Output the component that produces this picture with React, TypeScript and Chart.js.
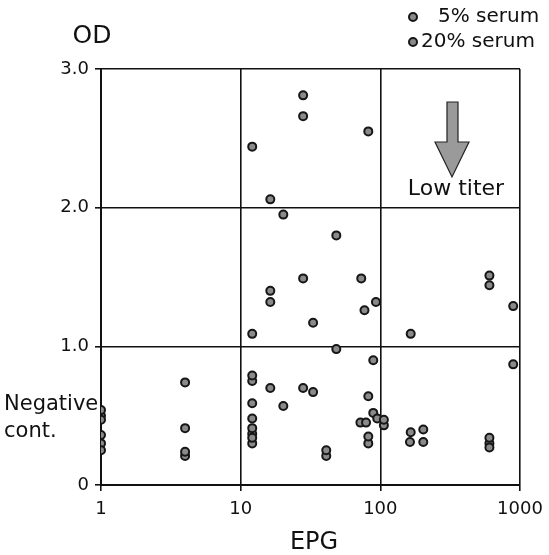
import React, { useEffect, useRef } from "react";
import { Chart, registerables } from "chart.js";

Chart.register(...registerables);

// EPG (x, log scale) and OD (y)
const serum5X = [1, 1, 1, 4, 4, 12.1, 12.1, 12.1, 12.1, 12.1, 16.3, 16.3, 20.2, 28, 28, 33, 41, 48.4, 73, 82, 82, 89, 106, 165, 165, 203, 604, 604, 894];
const serum5Y = [0.54, 0.36, 0.25, 0.74, 0.24, 2.44, 0.79, 0.59, 0.41, 0.34, 2.06, 1.32, 1.95, 2.81, 1.49, 1.17, 0.25, 1.80, 1.49, 2.55, 0.35, 0.90, 0.47, 1.09, 0.38, 0.40, 1.51, 0.34, 1.29];

const serum20X = [1, 1, 1, 4, 4, 12.1, 12.1, 12.1, 12.1, 12.1, 16.3, 16.3, 20.2, 28, 28, 33, 41, 48.4, 72, 77, 79, 82, 82, 89, 93, 95, 106, 163, 203, 604, 604, 604, 894];
const serum20Y = [0.50, 0.47, 0.30, 0.41, 0.21, 1.09, 0.75, 0.48, 0.37, 0.30, 1.40, 0.70, 0.57, 2.66, 0.70, 0.67, 0.21, 0.98, 0.45, 1.26, 0.45, 0.64, 0.30, 0.52, 1.32, 0.48, 0.43, 0.31, 0.31, 1.44, 0.30, 0.27, 0.87];

const xTicks = [1, 10, 100, 1000];
const yTicks = [0, 1, 2, 3];
const yTickLabels = ["0", "1.0", "2.0", "3.0"];
const seriesLabels = ["5% serum", "20% serum"];

const FONT = "'DejaVu Sans', 'Liberation Sans', Arial, sans-serif";
const POINT_FILL = "#8a8a8a";
const POINT_BORDER = "#161616";

const annotations = {
  id: "annotations",
  afterDraw(chart: any) {
    const ctx = chart.ctx as CanvasRenderingContext2D;
    ctx.save();
    ctx.fillStyle = "#111";
    ctx.textBaseline = "middle";

    // OD
    ctx.font = `25px ${FONT}`;
    ctx.textAlign = "center";
    ctx.fillText("OD", 92, 36);

    // EPG
    ctx.font = `24px ${FONT}`;
    ctx.fillText("EPG", 314, 543);

    // Negative cont.
    ctx.font = `21px ${FONT}`;
    ctx.textAlign = "left";
    ctx.textBaseline = "alphabetic";
    ctx.fillText("Negative", 4, 410);
    ctx.fillText("cont.", 4, 437);

    // legend
    ctx.textBaseline = "middle";
    ctx.font = `20px ${FONT}`;
    const rows = [
      { dx: 413, tx: 438, y: 17 },
      { dx: 413, tx: 421, y: 42 },
    ];
    rows.forEach((r, i) => {
      ctx.beginPath();
      ctx.arc(r.dx, r.y, 4, 0, Math.PI * 2);
      ctx.fillStyle = POINT_FILL;
      ctx.fill();
      ctx.lineWidth = 2;
      ctx.strokeStyle = POINT_BORDER;
      ctx.stroke();
      ctx.fillStyle = "#111";
      ctx.fillText(seriesLabels[i], r.tx, r.y);
    });

    // arrow
    ctx.beginPath();
    ctx.moveTo(447, 102);
    ctx.lineTo(458, 102);
    ctx.lineTo(458, 142);
    ctx.lineTo(469, 142);
    ctx.lineTo(452, 177);
    ctx.lineTo(435, 142);
    ctx.lineTo(447, 142);
    ctx.closePath();
    ctx.fillStyle = "#9a9a9a";
    ctx.fill();
    ctx.lineWidth = 1.2;
    ctx.strokeStyle = "#222";
    ctx.stroke();

    // Low titer
    ctx.fillStyle = "#111";
    ctx.font = `22px ${FONT}`;
    ctx.textAlign = "center";
    ctx.textBaseline = "alphabetic";
    ctx.fillText("Low titer", 456, 195);

    ctx.restore();
  },
};

export default function App() {
  const ref = useRef<HTMLCanvasElement | null>(null);

  useEffect(() => {
    if (!ref.current) return;
    const pointStyle = {
      pointRadius: 4,
      pointHoverRadius: 4,
      pointBackgroundColor: POINT_FILL,
      pointBorderColor: POINT_BORDER,
      pointBorderWidth: 2,
      backgroundColor: POINT_FILL,
      borderColor: POINT_BORDER,
    };
    const chart = new Chart(ref.current, {
      type: "scatter",
      data: {
        datasets: [
          {
            label: seriesLabels[0],
            data: serum5X.map((x, i) => ({ x, y: serum5Y[i] })),
            ...pointStyle,
          },
          {
            label: seriesLabels[1],
            data: serum20X.map((x, i) => ({ x, y: serum20Y[i] })),
            ...pointStyle,
          },
        ],
      },
      options: {
        animation: false,
        responsive: false,
        maintainAspectRatio: false,
        layout: { padding: { left: 0, top: 69, right: 29, bottom: 0 } },
        plugins: {
          legend: { display: false },
          tooltip: { enabled: false },
          title: { display: false },
        },
        scales: {
          x: {
            type: "logarithmic",
            min: 1,
            max: 1000,
            afterBuildTicks: (scale: any) => {
              scale.ticks = xTicks.map((v) => ({ value: v }));
            },
            afterFit: (scale: any) => {
              scale.height = 70;
              scale.paddingRight = 0;
              scale.paddingLeft = 0;
            },
            ticks: {
              color: "#111",
              font: { family: FONT, size: 18 },
              padding: 8,
              maxRotation: 0,
              autoSkip: false,
              callback: (v: any) => String(v),
            },
            grid: {
              color: "#111",
              lineWidth: 1.6,
              tickLength: 6,
              tickColor: "#111",
            },
            border: { color: "#111", width: 2 },
          },
          y: {
            min: 0,
            max: 3,
            afterBuildTicks: (scale: any) => {
              scale.ticks = yTicks.map((v) => ({ value: v }));
            },
            afterFit: (scale: any) => {
              scale.width = 101;
              scale.paddingTop = 0;
              scale.paddingBottom = 0;
            },
            ticks: {
              color: "#111",
              font: { family: FONT, size: 18 },
              padding: 6,
              callback: (v: any) => yTickLabels[yTicks.indexOf(Number(v))] ?? "",
            },
            grid: {
              color: "#111",
              lineWidth: 1.6,
              tickLength: 6,
              tickColor: "#111",
            },
            border: { color: "#111", width: 2 },
          },
        },
      },
      plugins: [annotations],
    } as any);
    return () => chart.destroy();
  }, []);

  return (
    <div style={{ position: "fixed", left: 0, top: 0, width: 549, height: 555, background: "#fff" }}>
      <canvas ref={ref} width={549} height={555} />
    </div>
  );
}
